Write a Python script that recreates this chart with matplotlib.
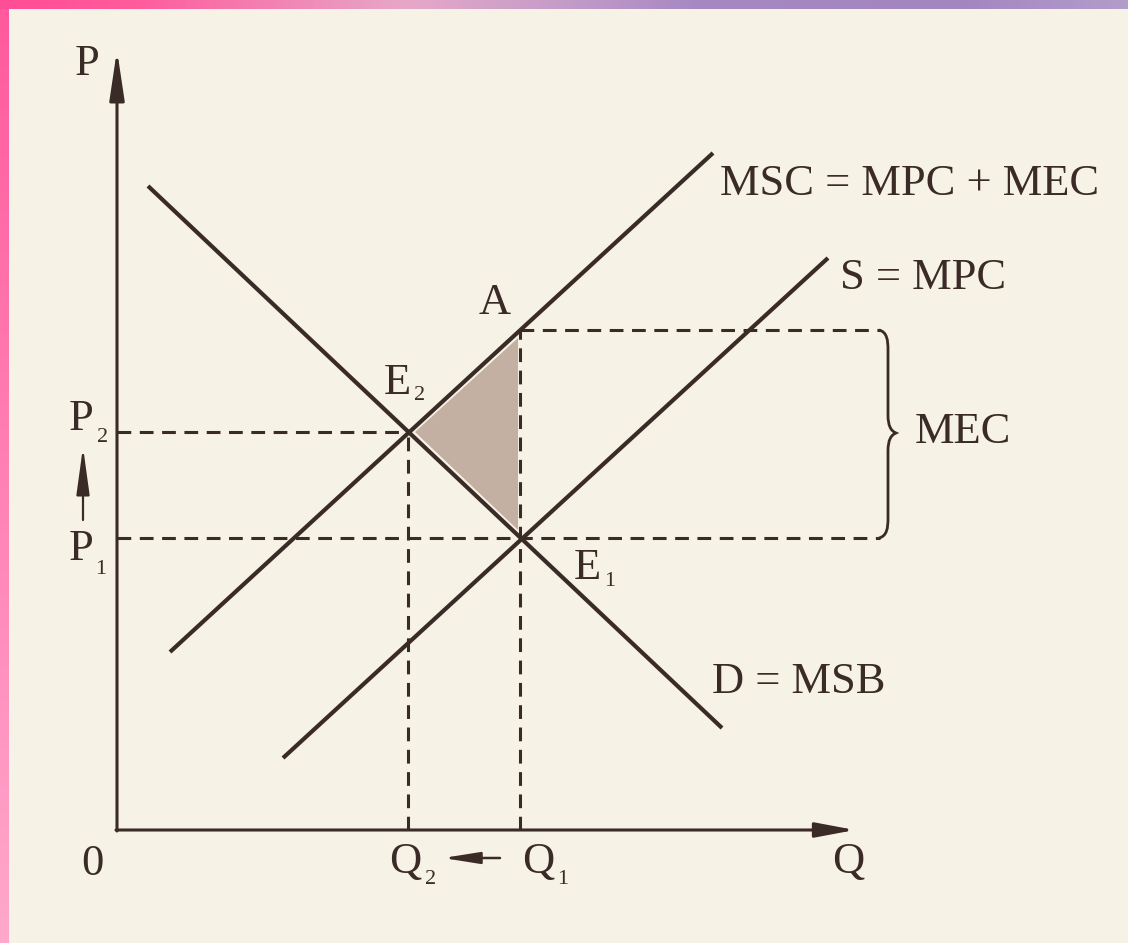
import matplotlib
matplotlib.use('Agg')
import matplotlib.pyplot as plt
import numpy as np
from matplotlib.path import Path
from matplotlib.patches import PathPatch, Polygon
from matplotlib.colors import LinearSegmentedColormap

# ---- data (chart units: Q along the horizontal, P along the vertical) ----
demand_q = [3.1, 60.5]      # D = MSB
demand_p = [64.4, 10.2]
msc_q = [5.3, 59.6]         # MSC = MPC + MEC
msc_p = [17.8, 67.7]
mpc_q = [16.6, 71.1]        # S = MPC
mpc_p = [7.2, 57.2]
Q1, Q2 = 40.3, 29.1
P1, P2, PA = 29.2, 39.8, 50.0
axis_q_max, axis_p_max = 73.8, 78.0
guide_q_max = 76.3

ink = '#3a2b27'
bg = '#f7f2e6'
shade = '#c4b0a2'
FONT = ['Liberation Serif', 'DejaVu Serif']
FS = 32
SUB = 16

fig = plt.figure(figsize=(11.28, 9.43), dpi=100, facecolor=bg)
ax = fig.add_axes([0, 0, 1, 1])
ax.set_facecolor(bg)
ax.set_xlim(-11.7, 101.1)
ax.set_ylim(-11.3, 83.0)
ax.axis('off')

# shaded deadweight triangle
tri = Polygon([(Q2 + 0.7, P2), (Q1 - 0.2, PA - 0.8), (Q1 - 0.2, P1 + 0.8)], closed=True,
              facecolor=shade, edgecolor='none', zorder=1)
ax.add_patch(tri)

# dashed guides
dash = dict(color=ink, lw=2.2, linestyle=(0, (4.5, 2.8)), zorder=2)
ax.plot([0, Q2], [P2, P2], **dash)
ax.plot([0, guide_q_max], [P1, P1], **dash)
ax.plot([Q1, guide_q_max], [PA, PA], **dash)
ax.plot([Q2, Q2], [0, P2], **dash)
ax.plot([Q1, Q1], [0, PA], **dash)

# curves
solid = dict(color=ink, lw=3.0, solid_capstyle='butt', zorder=3)
ax.plot(demand_q, demand_p, **solid)
ax.plot(msc_q, msc_p, **solid)
ax.plot(mpc_q, mpc_p, **solid)

# axes with arrows
ax.annotate('', xy=(0, axis_p_max), xytext=(0, -0.1),
            arrowprops=dict(arrowstyle='-|>,head_length=3.0,head_width=0.45',
                            mutation_scale=10, lw=2.2, color=ink,
                            shrinkA=0, shrinkB=0), zorder=4)
ax.annotate('', xy=(axis_q_max, 0), xytext=(-0.1, 0),
            arrowprops=dict(arrowstyle='-|>,head_length=2.4,head_width=0.45',
                            mutation_scale=10, lw=2.2, color=ink,
                            shrinkA=0, shrinkB=0), zorder=4)

# small shift arrows
ax.annotate('', xy=(-3.4, 38.3), xytext=(-3.4, 31.0),
            arrowprops=dict(arrowstyle='-|>,head_length=2.9,head_width=0.4',
                            mutation_scale=10, lw=1.6, color=ink,
                            shrinkA=0, shrinkB=0))
ax.annotate('', xy=(32.6, -2.8), xytext=(38.3, -2.8),
            arrowprops=dict(arrowstyle='-|>,head_length=2.2,head_width=0.35',
                            mutation_scale=10, lw=1.8, color=ink,
                            shrinkA=0, shrinkB=0))

# brace for MEC
bx = 76.6
verts = [(bx - 0.4, PA), (bx + 0.4, PA - 0.2), (bx + 0.5, PA - 1.0), (bx + 0.5, PA - 2.0),
         (bx + 0.5, 41.5),
         (bx + 0.5, 40.4), (bx + 0.8, 39.9), (bx + 1.3, 39.7),
         (bx + 0.8, 39.5), (bx + 0.5, 39.0), (bx + 0.5, 37.9),
         (bx + 0.5, P1 + 2.0),
         (bx + 0.5, P1 + 1.0), (bx + 0.4, P1 + 0.2), (bx - 0.4, P1)]
codes = [Path.MOVETO, Path.CURVE4, Path.CURVE4, Path.CURVE4,
         Path.LINETO,
         Path.CURVE4, Path.CURVE4, Path.CURVE4,
         Path.CURVE4, Path.CURVE4, Path.CURVE4,
         Path.LINETO,
         Path.CURVE4, Path.CURVE4, Path.CURVE4]
ax.add_patch(PathPatch(Path(verts, codes), facecolor='none', edgecolor=ink, lw=2.0))

def txt(x, y, s, size=FS, ha='center', va='center'):
    ax.text(x, y, s, fontsize=size, family=FONT, color=ink, ha=ha, va=va)

# labels
txt(-3.0, 76.6, 'P')
txt(-3.6, 41.1, 'P')
txt(-1.4, 39.3, '2', SUB)
txt(-3.6, 28.1, 'P')
txt(-1.6, 26.0, '1', SUB)
txt(-2.5, -3.4, '0')
txt(28.8, -3.2, 'Q')
txt(31.4, -5.0, '2', SUB)
txt(42.1, -3.2, 'Q')
txt(44.6, -5.0, '1', SUB)
txt(73.1, -3.2, 'Q')
txt(37.8, 52.7, 'A')
txt(28.0, 44.7, 'E')
txt(30.3, 43.4, '2', SUB)
txt(47.0, 26.2, 'E')
txt(49.3, 24.8, '1', SUB)
txt(60.3, 64.6, 'MSC = MPC + MEC', ha='left')
txt(72.3, 55.2, 'S = MPC', ha='left')
txt(59.5, 14.8, 'D = MSB', ha='left')
txt(79.8, 39.8, 'MEC', ha='left')

# decorative slide border
top_cmap = LinearSegmentedColormap.from_list('top', [
    (0.0, '#ff4d96'), (0.12, '#ff5c9c'), (0.36, '#e6a8c8'),
    (0.5, '#c49cc8'), (0.62, '#a788c2'), (0.85, '#a385c0'), (1.0, '#b39dcb')])
left_cmap = LinearSegmentedColormap.from_list('left', ['#ffa8cc', '#ff5a9c'])
grad = np.linspace(0, 1, 256)[None, :]
axt = fig.add_axes([0, 1 - 9 / 943, 1, 9 / 943])
axt.imshow(grad, aspect='auto', cmap=top_cmap)
axt.axis('off')
axl = fig.add_axes([0, 0, 9 / 1128, 1 - 9 / 943])
axl.imshow(np.linspace(0, 1, 256)[:, None], aspect='auto', cmap=left_cmap, origin='lower')
axl.axis('off')

fig.savefig('out.png', dpi=100, facecolor=bg)
